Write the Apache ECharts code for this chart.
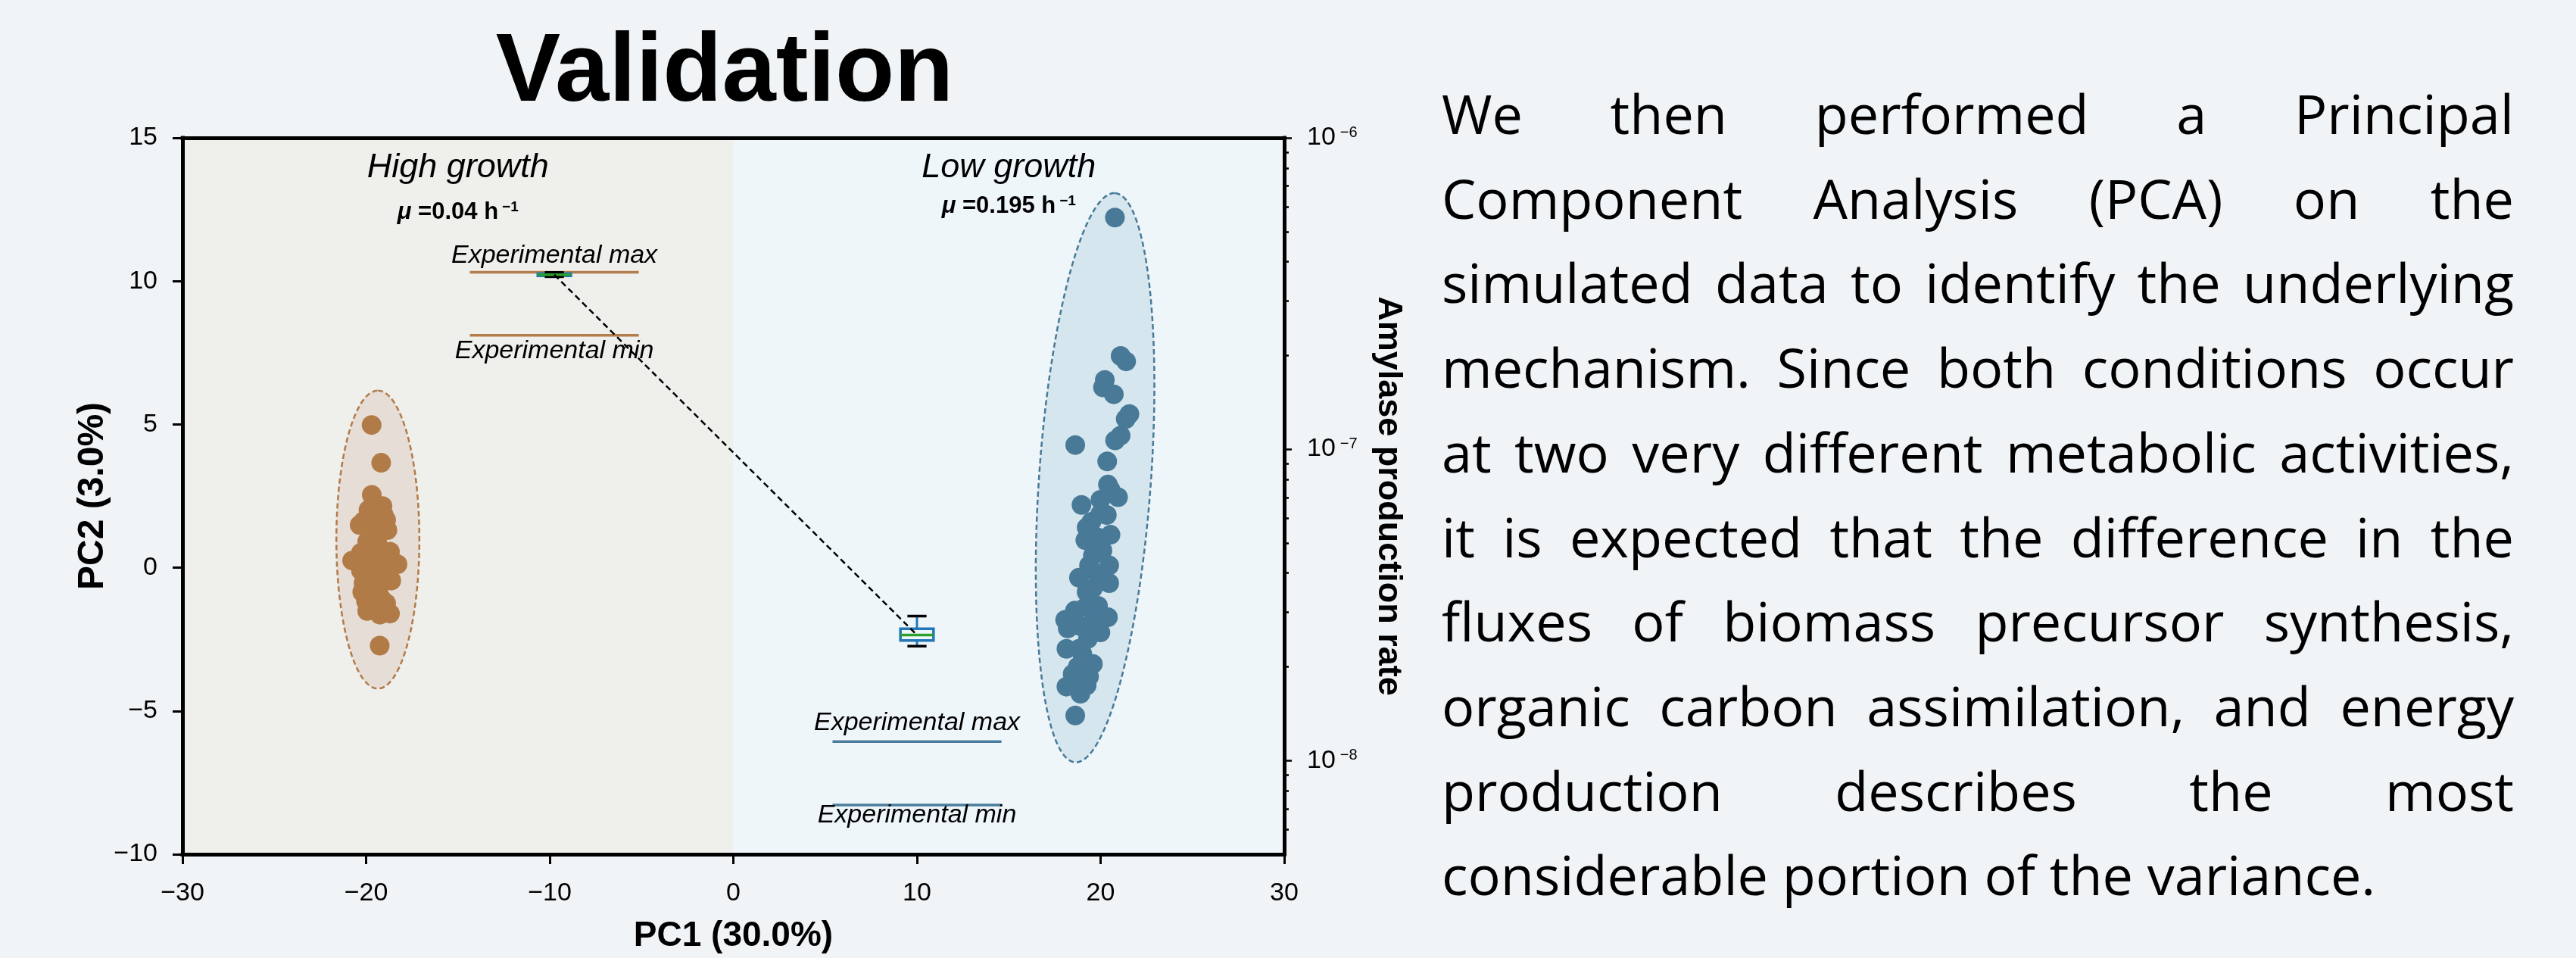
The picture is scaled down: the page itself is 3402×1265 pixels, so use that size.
<!DOCTYPE html>
<html>
<head>
<meta charset="utf-8">
<script src="https://cdn.jsdelivr.net/npm/echarts@6/dist/echarts.min.js"></script>
<style>
html, body { margin: 0; padding: 0; background: #f0f4f7; }
#chart { position: absolute; left: 0; top: 0; width: 3402px; height: 1265px; }
#para { position: absolute; left: 1904px; top: 94px; width: 1416px; font-family: "Open Sans", sans-serif; font-size: 72px; line-height: 111.7px; color: #000; }
#para .j { text-align: justify; text-align-last: justify; }
#para .l { text-align: left; }
</style>
</head>
<body>
<div id="chart"></div>
<div id="para">
<div class="j">We then performed a Principal</div>
<div class="j">Component Analysis (PCA) on the</div>
<div class="j">simulated data to identify the underlying</div>
<div class="j">mechanism. Since both conditions occur</div>
<div class="j">at two very different metabolic activities,</div>
<div class="j">it is expected that the difference in the</div>
<div class="j">fluxes of biomass precursor synthesis,</div>
<div class="j">organic carbon assimilation, and energy</div>
<div class="j">production describes the most</div>
<div class="l">considerable portion of the variance.</div>
</div>
<script>
// ---------------- DATA ----------------
const pc1Ticks = [-30, -20, -10, 0, 10, 20, 30];
const pc2Ticks = [-10, -5, 0, 5, 10, 15];
const rateMin = 5e-9, rateMax = 1e-6;
const rateLabelExponents = [-8, -7, -6];

const groups = ['High growth', 'Low growth'];
const growthRates = ['0.04', '0.195'];

// High growth scores (PC1, PC2)
const highPC1 = [-19.70, -19.18, -19.26, -19.69, -19.11, -19.04, -20.14, -19.59, -19.80, -18.84,
                 -19.32, -19.94, -19.39, -18.70, -20.28, -20.76, -19.73, -19.18, -18.29, -20.28,
                 -19.73, -19.04, -18.63, -19.46, -20.01, -20.21, -19.32, -19.73, -19.18, -20.01,
                 -18.91, -19.94, -19.25, -18.70, -19.46, -19.87, -20.35, -18.91, -19.52, -20.14, -19.59];
const highPC2 = [4.98, 3.66, -2.72, 2.54, 2.15, 1.84, 1.62, 1.66, 1.31, 1.31,
                 1.31, 0.91, 0.87, 0.56, 0.52, 0.25, 0.43, 0.30, 0.12, -0.10,
                 -0.01, -0.10, -0.45, -0.36, -0.45, -0.85, -0.72, -0.98, -1.07, -1.16,
                 -1.24, -1.51, -1.64, -1.60, -1.38, 2.02, 1.49, 1.66, 1.84, -0.54, 0.52];

// Low growth scores (PC1, PC2)
const lowPC1 = [20.78, 21.09, 21.39, 20.23, 20.13, 20.72, 21.57, 21.37, 21.09, 20.79,
                18.62, 20.36, 20.40, 20.54, 20.95, 18.96, 19.99, 19.99, 20.34, 19.24,
                20.54, 19.17, 19.86, 19.58, 20.47, 19.37, 18.82, 20.47, 19.58, 19.24,
                19.17, 19.86, 20.40, 18.07, 18.21, 18.89, 19.99, 19.31, 18.14, 18.82,
                19.58, 18.76, 18.48, 19.37, 18.14, 18.69, 19.24, 18.62, 19.60, 18.60,
                19.00, 19.80, 19.50, 20.10, 18.90];
const lowPC2 = [12.22, 7.39, 7.20, 6.55, 6.29, 6.05, 5.36, 5.19, 4.61, 4.44,
                4.28, 3.71, 2.90, 2.72, 2.46, 2.19, 2.37, 1.88, 1.84, 1.40,
                1.15, 0.96, 1.05, 0.43, 0.08, 0.08, -0.35, -0.54, -0.72, -0.85,
                -1.38, -1.33, -1.73, -1.82, -2.12, -2.04, -2.26, -2.48, -2.83, -2.83,
                -3.36, -3.45, -3.71, -3.80, -4.15, -4.06, -4.11, -5.16, -1.90, -1.50,
                -3.00, -0.20, 1.60, 0.60, -4.40];

// Confidence ellipses: centre and half-axis vectors (PC units)
const ellCenterPC1 = [-19.36, 19.70];
const ellCenterPC2 = [0.98, 3.14];
const ellMajorPC1 = [0.00, 1.09];
const ellMajorPC2 = [5.20, 9.93];
const ellMinorPC1 = [2.26, 3.04];
const ellMinorPC2 = [0.00, -0.14];

// Simulated amylase production rate (box statistics) and experimental bounds
const boxPC1 = [-9.75, 10];
const rateWhiskerLow = [3.58e-7, 2.33e-8];
const rateQ1 = [3.604e-7, 2.43e-8];
const rateMedian = [3.634e-7, 2.53e-8];
const rateQ3 = [3.664e-7, 2.65e-8];
const rateWhiskerHigh = [3.695e-7, 2.91e-8];
const expMax = [3.70e-7, 1.15e-8];
const expMin = [2.32e-7, 7.2e-9];

// ---------------- STYLE ----------------
const FONT = '"Liberation Sans", Arial, Helvetica, sans-serif';
const groupColor = ['#b17b48', '#487a98'];
const lineColor = ['#b47e4c', '#4b7c9b'];
const ellFill = ['#e6ddd6', '#d6e6ee'];
const bgColor = ['#efefec', '#eef6fa'];
const lg = Math.log10;
const minus = v => String(v).replace('-', '\u2212');

const minorTicks = [];
for (let e = -9; e <= -7; e++) {
  for (let k = 2; k <= 9; k++) {
    const v = k * Math.pow(10, e);
    if (v > rateMin * 1.001 && v < rateMax) minorTicks.push(lg(v));
  }
}

const chart = echarts.init(document.getElementById('chart'), null, { renderer: 'canvas' });

const axisLineStyle = { color: '#000', width: 5, cap: 'square' };
const noBorder = { color: '#000', opacity: 1, textBorderWidth: 0, textBorderColor: 'transparent', textShadowBlur: 0 };

const option = {
  backgroundColor: '#f0f4f7',
  animation: false,
  grid: { left: 241, right: 1706, top: 182, bottom: 137, containLabel: false, outerBoundsMode: 'none' },
  graphic: [{
    type: 'text', x: 957, y: 98, z: 100,
    style: { text: 'Validation', fontSize: 128, fontWeight: 'bold', fontFamily: FONT, fill: '#000',
             align: 'center', verticalAlign: 'middle', textAlign: 'center', textVerticalAlign: 'middle' }
  }],
  xAxis: [{
    type: 'value', min: pc1Ticks[0], max: pc1Ticks[pc1Ticks.length - 1], interval: 10, z: 10,
    position: 'bottom',
    name: 'PC1 (30.0%)', nameLocation: 'middle', nameGap: 85,
    nameTextStyle: { fontFamily: FONT, fontWeight: 'bold', fontSize: 46, lineHeight: 46, color: '#000' },
    axisLine: { show: true, onZero: false, lineStyle: axisLineStyle },
    axisTick: { show: true, length: 13, lineStyle: { color: '#000', width: 3 } },
    axisLabel: { margin: 35, fontFamily: FONT, fontSize: 34, lineHeight: 34, color: '#000', formatter: minus },
    splitLine: { show: false }
  }, {
    type: 'value', min: pc1Ticks[0], max: pc1Ticks[pc1Ticks.length - 1], interval: 10, z: 10,
    position: 'top',
    axisLine: { show: true, onZero: false, lineStyle: axisLineStyle },
    axisTick: { show: false }, axisLabel: { show: false }, splitLine: { show: false }
  }],
  yAxis: [{
    type: 'value', min: pc2Ticks[0], max: pc2Ticks[pc2Ticks.length - 1], interval: 5, z: 10,
    position: 'left',
    name: 'PC2 (3.0%)', nameLocation: 'middle', nameGap: 94,
    nameTextStyle: { fontFamily: FONT, fontWeight: 'bold', fontSize: 48, lineHeight: 48, color: '#000' },
    axisLine: { show: true, onZero: false, lineStyle: axisLineStyle },
    axisTick: { show: true, length: 13, lineStyle: { color: '#000', width: 3 } },
    axisLabel: { margin: 33, fontFamily: FONT, fontSize: 34, lineHeight: 34, color: '#000', formatter: minus },
    splitLine: { show: false }
  }, {
    type: 'value', min: lg(rateMin), max: lg(rateMax), z: 10,
    position: 'right',
    name: 'Amylase production rate', nameLocation: 'middle', nameGap: 115, nameRotate: -90,
    nameTextStyle: { fontFamily: FONT, fontWeight: 'bold', fontSize: 45, lineHeight: 45, color: '#000' },
    axisLine: { show: true, onZero: false, lineStyle: axisLineStyle },
    axisTick: { show: true, length: 10, customValues: rateLabelExponents, lineStyle: { color: '#000', width: 2.5 } },
    axisLabel: {
      margin: 30, customValues: rateLabelExponents, align: 'left',
      formatter: v => '{b|10}{s|\u2212' + Math.round(-v) + '}',
      rich: {
        b: { fontFamily: FONT, fontSize: 34, lineHeight: 34, color: '#000' },
        s: { fontFamily: FONT, fontSize: 20, lineHeight: 20, verticalAlign: 'top', padding: [0, 0, 0, 6], color: '#000' }
      }
    },
    splitLine: { show: false }
  }, {
    type: 'value', min: lg(rateMin), max: lg(rateMax), z: 10,
    position: 'right',
    axisLine: { show: false, onZero: false },
    axisTick: { show: true, length: 6, customValues: minorTicks, lineStyle: { color: '#000', width: 2.5 } },
    axisLabel: { show: false },
    splitLine: { show: false }
  }],
  series: [
    // panel backgrounds
    {
      type: 'custom', xAxisIndex: 0, yAxisIndex: 0, z: 0, silent: true,
      data: [[pc1Ticks[0], 0], [0, 1]],
      renderItem: (params, api) => {
        const i = params.dataIndex;
        const x0 = i === 0 ? pc1Ticks[0] : 0;
        const x1 = i === 0 ? 0 : pc1Ticks[pc1Ticks.length - 1];
        const a = api.coord([x0, pc2Ticks[pc2Ticks.length - 1]]);
        const b = api.coord([x1, pc2Ticks[0]]);
        return { type: 'rect', shape: { x: a[0], y: a[1], width: b[0] - a[0], height: b[1] - a[1] },
                 style: { fill: bgColor[i] } };
      }
    },
    // ellipses
    {
      type: 'custom', xAxisIndex: 0, yAxisIndex: 0, z: 1, silent: true,
      data: ellCenterPC1.map((x, i) => [x, ellCenterPC2[i]]),
      renderItem: (params, api) => {
        const i = params.dataIndex;
        const pts = [];
        for (let k = 0; k <= 180; k++) {
          const t = 2 * Math.PI * k / 180;
          pts.push(api.coord([
            ellCenterPC1[i] + ellMajorPC1[i] * Math.cos(t) + ellMinorPC1[i] * Math.sin(t),
            ellCenterPC2[i] + ellMajorPC2[i] * Math.cos(t) + ellMinorPC2[i] * Math.sin(t)
          ]));
        }
        return { type: 'polygon', shape: { points: pts },
                 style: { fill: ellFill[i], stroke: groupColor[i], lineWidth: 2.5, lineDash: [7, 4] } };
      }
    },
    // scores
    {
      name: groups[0], type: 'scatter', xAxisIndex: 0, yAxisIndex: 0, z: 3,
      symbol: 'circle', symbolSize: 26, itemStyle: { color: groupColor[0], opacity: 1 },
      data: highPC1.map((x, i) => [x, highPC2[i]])
    },
    {
      name: groups[1], type: 'scatter', xAxisIndex: 0, yAxisIndex: 0, z: 3,
      symbol: 'circle', symbolSize: 26, itemStyle: { color: groupColor[1], opacity: 1 },
      data: lowPC1.map((x, i) => [x, lowPC2[i]])
    },
    // experimental bounds
    ...[0, 1].flatMap(i => [expMax[i], expMin[i]].map(v => ({
      type: 'line', xAxisIndex: 0, yAxisIndex: 1, z: 4, symbol: 'none', silent: true,
      lineStyle: { color: lineColor[i], width: 3.5 },
      data: [[boxPC1[i] - 4.6, lg(v)], [boxPC1[i] + 4.6, lg(v)]]
    }))),
    // experimental labels
    {
      type: 'scatter', xAxisIndex: 0, yAxisIndex: 1, z: 7, symbolSize: 0, silent: true,
      itemStyle: { opacity: 1, color: 'transparent' },
      data: [
        { value: [boxPC1[0], lg(expMax[0])], label: { formatter: 'Experimental max', offset: [0, -22] } },
        { value: [boxPC1[0], lg(expMin[0])], label: { formatter: 'Experimental min', offset: [0, 21] } },
        { value: [boxPC1[1], lg(expMax[1])], label: { formatter: 'Experimental max', offset: [0, -25] } },
        { value: [boxPC1[1], lg(expMin[1])], label: { formatter: 'Experimental min', offset: [0, 14] } }
      ],
      label: Object.assign({ show: true, position: 'inside', align: 'center', verticalAlign: 'middle',
               fontFamily: FONT, fontStyle: 'italic', fontSize: 34, lineHeight: 34 }, noBorder)
    },
    // simulated box plots
    {
      type: 'custom', xAxisIndex: 0, yAxisIndex: 1, z: 5, silent: true,
      encode: { x: 0, y: [1, 2, 3, 4, 5] },
      data: boxPC1.map((x, i) => [x, lg(rateWhiskerLow[i]), lg(rateQ1[i]), lg(rateMedian[i]), lg(rateQ3[i]), lg(rateWhiskerHigh[i])]),
      renderItem: (params, api) => {
        const x = api.value(0);
        const wl = api.value(1), q1 = api.value(2), md = api.value(3), q3 = api.value(4), wh = api.value(5);
        const bh = 0.9, ch = 0.52;
        const c = (a, b) => api.coord([a, b]);
        const seg = (p, q, color, w) => ({ type: 'line', shape: { x1: p[0], y1: p[1], x2: q[0], y2: q[1] }, style: { stroke: color, lineWidth: w } });
        const tl = c(x - bh, q3), br = c(x + bh, q1);
        return { type: 'group', children: [
          seg(c(x, q3), c(x, wh), '#2277b8', 3),
          seg(c(x, q1), c(x, wl), '#2277b8', 3),
          { type: 'rect', shape: { x: tl[0], y: tl[1], width: br[0] - tl[0], height: br[1] - tl[1] },
            style: { fill: 'none', stroke: '#2277b8', lineWidth: 3.5 } },
          seg(c(x - ch, wh), c(x + ch, wh), '#000', 3.5),
          seg(c(x - ch, wl), c(x + ch, wl), '#000', 3.5),
          seg(c(x - bh, md), c(x + bh, md), '#2ca02c', 3.5)
        ] };
      }
    },
    // connector between medians
    {
      type: 'line', xAxisIndex: 0, yAxisIndex: 1, z: 6, symbol: 'none', silent: true,
      lineStyle: { color: '#000', width: 2.5, type: [8, 5] },
      data: boxPC1.map((x, i) => [x, lg(rateMedian[i])])
    },
    // group annotations
    {
      type: 'scatter', xAxisIndex: 0, yAxisIndex: 0, z: 7, symbolSize: 0, silent: true,
      itemStyle: { opacity: 1, color: 'transparent' },
      label: Object.assign({ show: true, position: 'inside', align: 'center', verticalAlign: 'middle' }, noBorder),
      data: [
        { value: [-15, 13.95], label: Object.assign({ formatter: groups[0], fontFamily: FONT, fontStyle: 'italic', fontSize: 45 }, noBorder) },
        { value: [15, 13.95], label: Object.assign({ formatter: groups[1], fontFamily: FONT, fontStyle: 'italic', fontSize: 45 }, noBorder) },
        ...[0, 1].map(i => ({
          value: [i === 0 ? -15 : 15, i === 0 ? 12.41 : 12.62],
          label: Object.assign({
            formatter: '{m|\u03bc}{t| =' + growthRates[i] + ' h}{s|\u22121}',
            rich: {
              m: { fontFamily: FONT, fontStyle: 'italic', fontWeight: 'bold', fontSize: 31, lineHeight: 31, color: '#000' },
              t: { fontFamily: FONT, fontWeight: 'bold', fontSize: 31, lineHeight: 31, color: '#000' },
              s: { fontFamily: FONT, fontWeight: 'bold', fontSize: 19, lineHeight: 19, verticalAlign: 'top', padding: [0, 0, 0, 5], color: '#000' }
            }
          }, noBorder)
        }))
      ]
    }
  ]
};
chart.setOption(option);
</script>
</body>
</html>
